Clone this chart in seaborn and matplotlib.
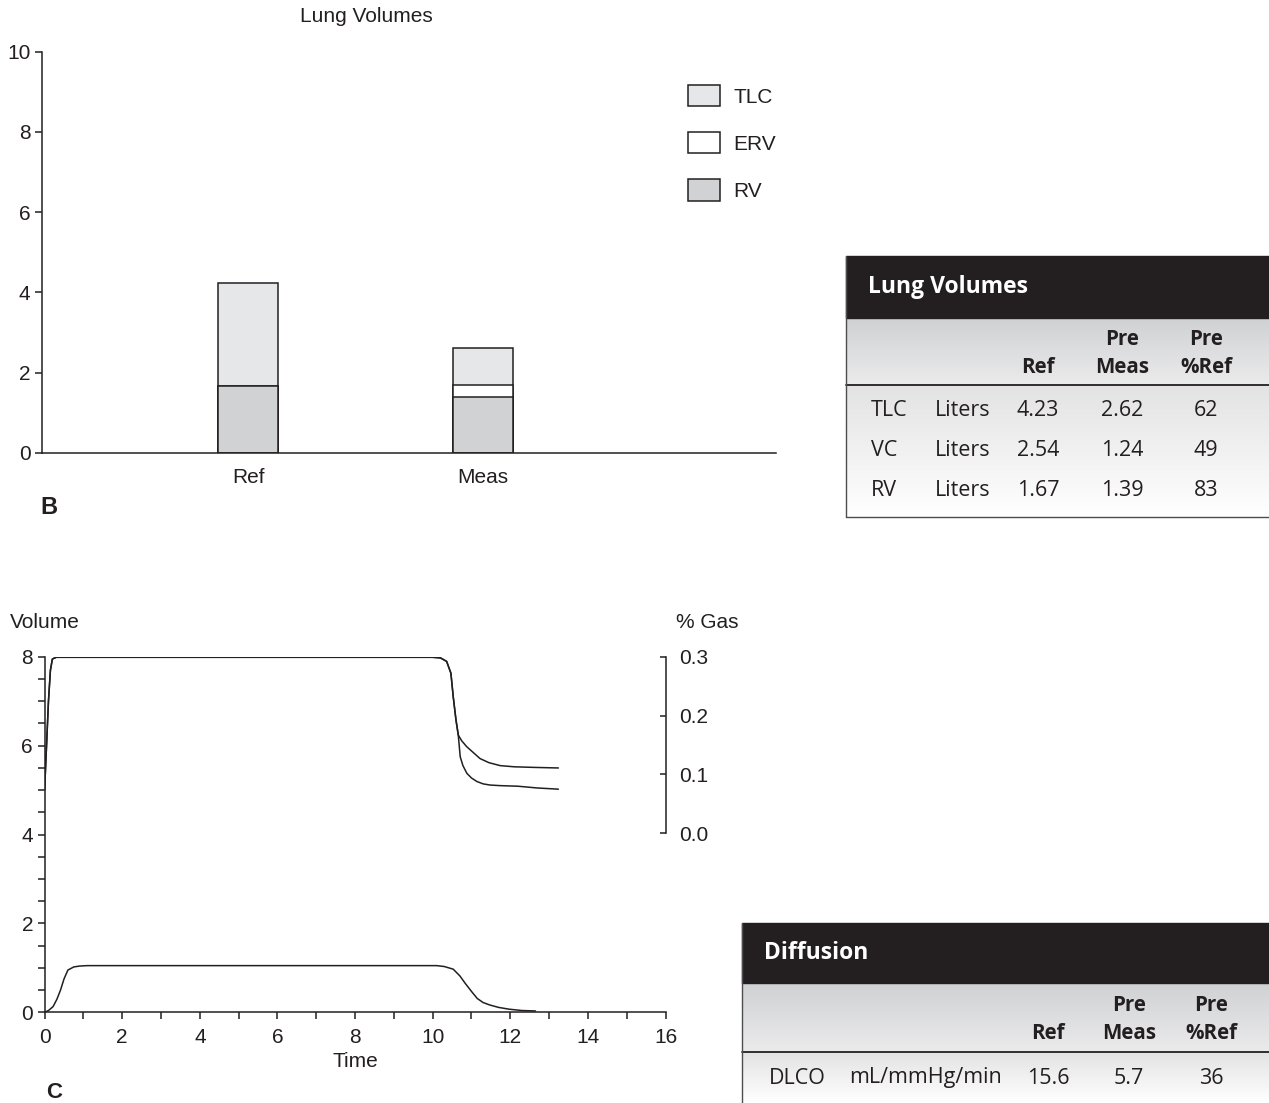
import numpy as np
import matplotlib
matplotlib.use('Agg')
import matplotlib.pyplot as plt
from matplotlib.patches import Rectangle, Patch
from matplotlib.ticker import MultipleLocator, FormatStrFormatter
import matplotlib.colors as mcolors
import seaborn as sns

sns.set_theme(style='white')
plt.rcParams['font.family'] = ['Liberation Sans', 'DejaVu Sans']

INK = '#231f20'
TLC_C = '#e6e7e8'
RV_C = '#d1d2d4'
TAB_FONT = ['Open Sans', 'DejaVu Sans']
FS = 15

# --- lung volume bars (liters) ---
bar_cats = ['Ref', 'Meas']
tlc = [4.23, 2.62]
erv = [0.0, 0.31]
rv = [1.67, 1.39]
legend_labels = ['TLC', 'ERV', 'RV']

# --- washout traces ---
vol_t = [0, 0.1, 0.22, 0.32, 0.41, 0.5, 0.6, 0.75, 0.9, 1.1, 10.1, 10.3, 10.53,
         10.7, 10.84, 11.0, 11.15, 11.3, 11.47, 11.7, 11.97, 12.3, 12.65]
vol_v = [0, 0.04, 0.13, 0.3, 0.5, 0.75, 0.95, 1.02, 1.04, 1.05, 1.05, 1.03, 0.97,
         0.82, 0.65, 0.47, 0.31, 0.22, 0.165, 0.11, 0.07, 0.04, 0.03]

gas1_t = [0, 0.05, 0.1, 0.15, 0.2, 0.3, 10.0, 10.2, 10.36, 10.47, 10.53, 10.6, 10.66,
          10.75, 10.88, 11.05, 11.22, 11.45, 11.74, 12.1, 12.6, 13.24]
gas1 = [0.074, 0.149, 0.225, 0.277, 0.296, 0.299, 0.299, 0.298, 0.292, 0.272, 0.232, 0.193, 0.167,
        0.157, 0.147, 0.137, 0.127, 0.120, 0.115, 0.113, 0.112, 0.111]
gas2_t = [0, 0.05, 0.1, 0.15, 0.2, 0.3, 10.0, 10.2, 10.36, 10.47, 10.53, 10.6, 10.66,
          10.71, 10.78, 10.88, 11.0, 11.14, 11.3, 11.48, 11.74, 12.2, 12.7, 13.24]
gas2 = [0.074, 0.149, 0.225, 0.277, 0.296, 0.299, 0.299, 0.298, 0.292, 0.272, 0.232, 0.193, 0.167,
        0.130, 0.115, 0.102, 0.094, 0.088, 0.084, 0.082, 0.081, 0.080, 0.077, 0.075]

# --- tables ---
lv_head = ['Ref', 'Pre\nMeas', 'Pre\n%Ref']
lv_names = ['TLC', 'VC', 'RV']
lv_units = ['Liters', 'Liters', 'Liters']
lv_ref = ['4.23', '2.54', '1.67']
lv_meas = ['2.62', '1.24', '1.39']
lv_pct = ['62', '49', '83']

dl_names = ['DLCO']
dl_units = ['mL/mmHg/min']
dl_ref = ['15.6']
dl_meas = ['5.7']
dl_pct = ['36']

W, H = 1269, 1103
fig = plt.figure(figsize=(W / 100, H / 100), dpi=100)


def fbox(x0, y0, x1, y1):
    return [x0 / W, 1 - y1 / H, (x1 - x0) / W, (y1 - y0) / H]


# ===== panel B: bars =====
ax1 = fig.add_axes(fbox(42.3, 51.7, 776, 452.7))
bw = 0.255
sns.barplot(x=bar_cats, y=tlc, color=TLC_C, saturation=1, width=bw, errorbar=None,
            edgecolor=INK, linewidth=1.1, ax=ax1)
sns.barplot(x=bar_cats, y=list(np.add(rv, erv)), color='white', saturation=1, width=bw,
            errorbar=None, edgecolor=INK, linewidth=1.1, ax=ax1)
sns.barplot(x=bar_cats, y=rv, color=RV_C, saturation=1, width=bw, errorbar=None,
            edgecolor=INK, linewidth=1.1, ax=ax1)
ax1.set_xlim(-0.877, 2.246)
ax1.set_ylim(0, 10)
ax1.set_yticks(range(0, 11, 2))
sns.despine(ax=ax1)
for s in ['left', 'bottom']:
    ax1.spines[s].set_color(INK)
    ax1.spines[s].set_linewidth(1.1)
ax1.tick_params(axis='x', length=0, pad=11, labelsize=FS, colors=INK)
ax1.tick_params(axis='y', length=5, width=1.1, pad=3.5, labelsize=FS, colors=INK,
                direction='out', left=True)
ax1.set_xlabel('')
ax1.set_ylabel('')

handles = [Patch(facecolor=c, edgecolor=INK, linewidth=1.1) for c in [TLC_C, 'white', RV_C]]
ax1.legend(handles, legend_labels, loc='upper left', bbox_to_anchor=(688 / W, 1 - 85 / H),
           bbox_transform=fig.transFigure, frameon=False, borderpad=0, borderaxespad=0,
           handlelength=1.52, handleheight=1.2, handletextpad=0.67, labelspacing=1.22,
           fontsize=FS, labelcolor=INK)

fig.text(366 / W, 1 - 17 / H, 'Lung Volumes', ha='center', va='center', fontsize=FS, color=INK)
fig.text(40 / W, 1 - 507 / H, 'B', ha='left', va='center', fontsize=17, fontweight='bold', color=INK)

# ===== panel C: washout =====
ax2 = fig.add_axes(fbox(44.6, 656.7, 665.5, 1012.3))
sns.lineplot(x=vol_t, y=vol_v, color=INK, linewidth=1.1, ax=ax2)
ax2.set_xlim(0, 16)
ax2.set_ylim(0, 8)
ax2.xaxis.set_major_locator(MultipleLocator(2))
ax2.xaxis.set_minor_locator(MultipleLocator(1))
ax2.yaxis.set_major_locator(MultipleLocator(2))
ax2.yaxis.set_minor_locator(MultipleLocator(0.5))
sns.despine(ax=ax2)
for s in ['left', 'bottom']:
    ax2.spines[s].set_color(INK)
    ax2.spines[s].set_linewidth(1.1)
ax2.tick_params(axis='both', which='both', direction='out', length=5, width=1.1,
                colors=INK, labelsize=FS)
ax2.tick_params(axis='x', which='both', bottom=True, pad=6)
ax2.tick_params(axis='y', which='both', left=True, pad=3.3)
ax2.set_xlabel('Time', fontsize=FS, color=INK, labelpad=4)
ax2.set_ylabel('')

ax3 = ax2.twinx()
sns.lineplot(x=gas1_t, y=gas1, color=INK, linewidth=1.1, ax=ax3)
sns.lineplot(x=gas2_t, y=gas2, color=INK, linewidth=1.1, ax=ax3)
ax3.set_xlim(0, 16)
ax3.set_ylim(-0.304, 0.3)
ax3.set_yticks([0.0, 0.1, 0.2, 0.3])
ax3.yaxis.set_major_formatter(FormatStrFormatter('%.1f'))
for s in ['left', 'top', 'bottom']:
    ax3.spines[s].set_visible(False)
ax3.spines['right'].set_bounds(0, 0.3)
ax3.spines['right'].set_color(INK)
ax3.spines['right'].set_linewidth(1.1)
ax3.tick_params(axis='y', direction='in', length=4.5, width=1.1, pad=10,
                colors=INK, labelsize=FS, right=True)
ax3.set_ylabel('')
ax3.set_xlabel('')

fig.text(10 / W, 1 - 622 / H, 'Volume', ha='left', va='center', fontsize=FS, color=INK)
fig.text(676 / W, 1 - 622 / H, '% Gas', ha='left', va='center', fontsize=FS, color=INK)
fig.text(46 / W, 1 - 1092 / H, 'C', ha='left', va='center', fontsize=16, fontweight='bold', color=INK)

# ===== tables =====
tab = fig.add_axes([0, 0, 1, 1])
tab.set_xlim(0, W)
tab.set_ylim(H, 0)
tab.axis('off')


def vgrad(x0, x1, y0, y1, c0, c1):
    a = np.array(mcolors.to_rgb(c0))
    b = np.array(mcolors.to_rgb(c1))
    f = np.linspace(0, 1, 64)[:, None]
    img = (a + (b - a) * f)[:, None, :]
    tab.imshow(img, extent=(x0, x1, y1, y0), aspect='auto', interpolation='bilinear', zorder=1)


def draw_table(x0, top, band_b, head_b, bot, title, head_x, names, name_x, units, unit_x,
               cols, col_x, row_y, head_y):
    tab.add_patch(Rectangle((x0, top), W - x0, band_b - top, color=INK, zorder=2))
    vgrad(x0, W, band_b, head_b, '#d0d1d3', '#ebebec')
    vgrad(x0, W, head_b, bot, '#e3e3e4', '#ffffff')
    tab.plot([x0, W], [head_b, head_b], color=INK, lw=1.3, zorder=3)
    tab.plot([x0, x0], [top, bot], color='#4d4d4f', lw=1.0, zorder=3)
    tab.text(head_x, (top + band_b) / 2, title, color='white', fontsize=16.5, fontweight='bold',
             family=TAB_FONT, ha='left', va='center', zorder=4)
    for lab, cx in zip(lv_head, col_x):
        tab.text(cx, head_y, lab, fontsize=14.8, fontweight='bold', family=TAB_FONT,
                 color=INK, ha='center', va='bottom', linespacing=1.45, zorder=4)
    for i, y in enumerate(row_y):
        tab.text(name_x, y, names[i], fontsize=15.5, family=TAB_FONT, color=INK,
                 ha='left', va='center', zorder=4)
        tab.text(unit_x, y, units[i], fontsize=15.5, family=TAB_FONT, color=INK,
                 ha='left', va='center', zorder=4)
        for vals, cx in zip(cols, col_x):
            tab.text(cx, y, vals[i], fontsize=15.5, family=TAB_FONT, color=INK,
                     ha='center', va='center', zorder=4)


draw_table(846, 256, 318, 385, 517, 'Lung Volumes', 868, lv_names, 871, lv_units, 935,
           [lv_ref, lv_meas, lv_pct], [1038, 1122, 1206], [411, 450, 490], 378)
tab.plot([846, W], [517, 517], color='#4d4d4f', lw=1.0, zorder=3)
draw_table(742, 923, 983, 1052, H, 'Diffusion', 764, dl_names, 769, dl_units, 849,
           [dl_ref, dl_meas, dl_pct], [1048, 1129, 1211], [1078], 1044)

tab.set_xlim(0, W)
tab.set_ylim(H, 0)

fig.savefig('out.png', dpi=100)
